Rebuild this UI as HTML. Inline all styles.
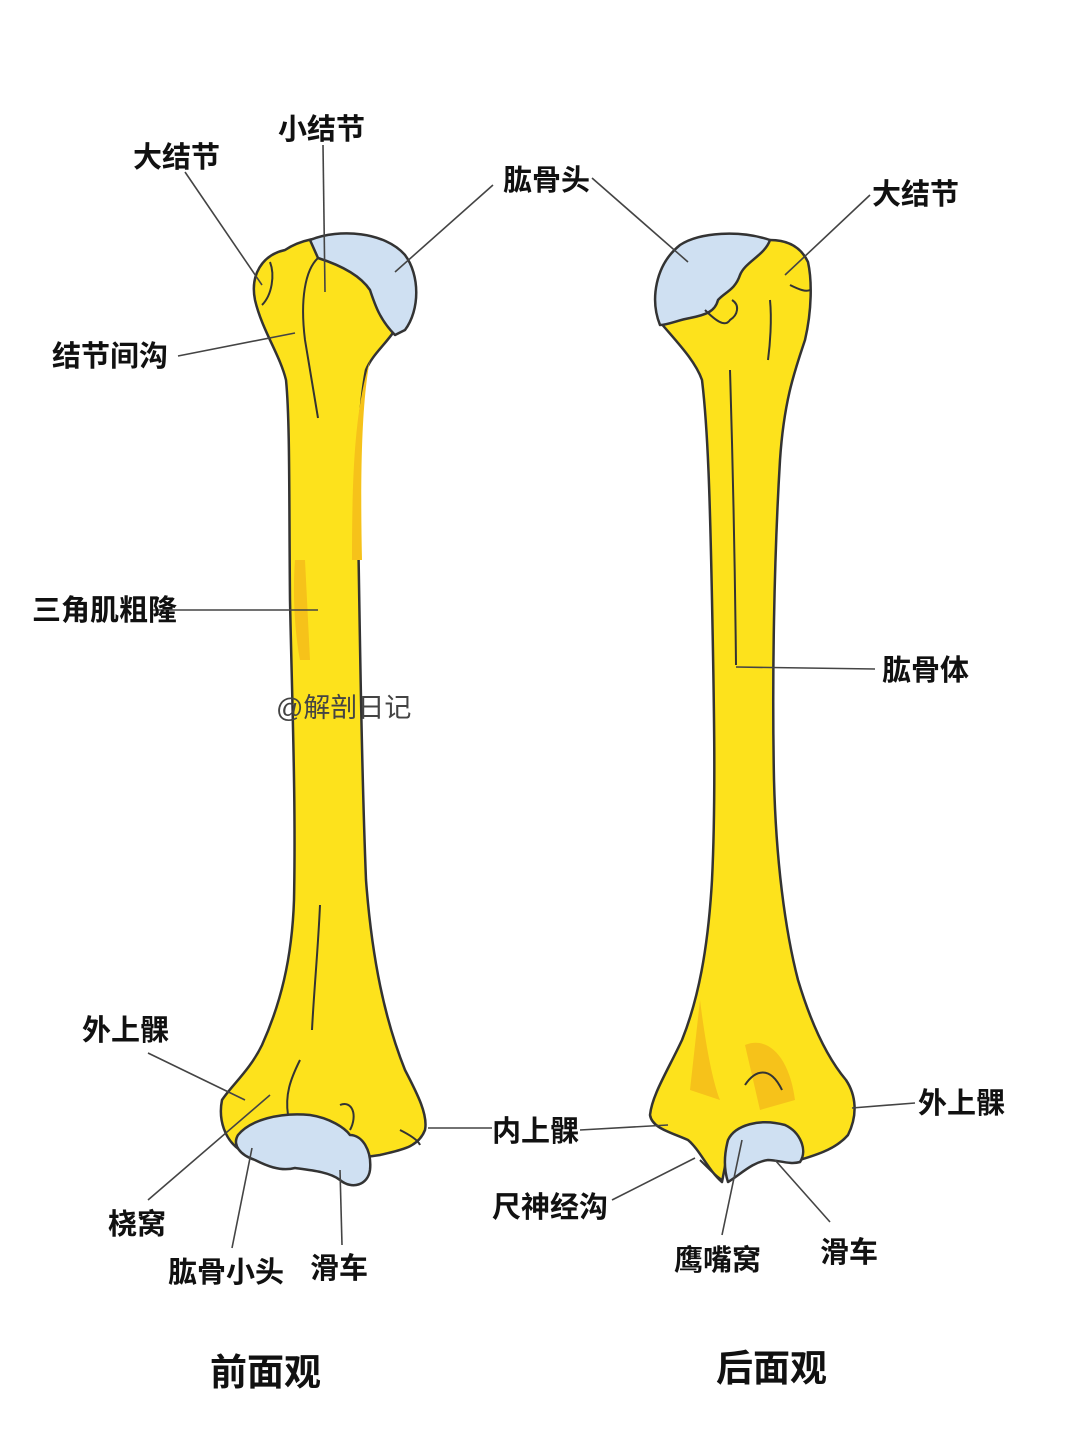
<!DOCTYPE html>
<html><head><meta charset="utf-8"><style>
html,body{margin:0;padding:0;background:#fff;}
svg{display:block;}
text{font-family:"Liberation Sans","Noto Sans CJK SC",sans-serif;font-weight:bold;fill:#111;font-size:29px;}
</style></head><body>
<svg width="1080" height="1439" viewBox="0 0 1080 1439" xmlns="http://www.w3.org/2000/svg">
<rect width="1080" height="1439" fill="#fff"/>
<g stroke="#333" stroke-width="2.5" stroke-linejoin="round">
<path fill="#fde21c" d="M255,300 C250,275 262,255 285,250 C300,240 320,236 340,238 L395,330 C385,345 372,355 366,370 C360,400 357,450 358,520 C360,650 362,780 366,880 C372,960 385,1020 405,1070 C418,1095 428,1115 425,1130 C418,1148 400,1150 380,1155 L345,1160 L240,1150 C225,1140 218,1120 222,1100 C232,1085 250,1070 262,1045 C280,1005 292,960 294,900 C296,800 292,700 290,600 C289,500 290,420 286,380 C280,355 262,330 255,300 Z"/>
<path fill="#f6c21a" stroke="none" d="M370,360 C362,400 360,470 362,560 L352,560 C352,470 355,410 370,360Z M295,560 C292,600 296,640 300,660 L310,660 L305,560Z"/>
<path fill="#cfe0f2" d="M310,240 C340,228 385,232 405,255 C420,275 420,310 405,330 L395,335 C380,320 375,305 370,290 C360,275 340,265 318,258 Z"/>
<path fill="#cfe0f2" d="M238,1135 C250,1120 280,1112 310,1115 C330,1118 345,1128 350,1135 C362,1135 372,1150 370,1170 C368,1185 352,1190 340,1180 C330,1172 310,1170 295,1168 C280,1172 265,1165 255,1160 C240,1155 232,1145 238,1135 Z"/>
<g fill="none" stroke-width="2">
<path d="M318,258 C305,270 300,300 305,340 C310,370 315,400 318,418"/>
<path d="M270,262 C275,275 272,295 262,305"/>
<path d="M320,905 C318,950 314,990 312,1030"/>
<path d="M300,1060 C290,1080 285,1095 288,1115"/>
<path d="M340,1105 C352,1100 358,1115 350,1130"/>
<path d="M400,1130 C410,1135 418,1140 420,1145"/>
</g>
<path fill="#fde21c" d="M660,322 C675,340 695,360 702,380 C708,430 710,500 712,600 C714,700 716,800 712,880 C708,950 698,1000 682,1040 C668,1070 652,1095 650,1115 C652,1128 670,1132 688,1140 C700,1150 708,1170 722,1182 L730,1140 L800,1160 C815,1155 835,1150 848,1135 C858,1115 856,1095 846,1080 C825,1055 810,1020 798,980 C785,930 776,860 774,780 C772,680 774,560 780,460 C784,400 795,370 805,340 C812,310 812,280 808,262 C800,245 785,240 770,240 L700,240 Z"/>
<path fill="#f6c21a" stroke="none" d="M745,1045 C770,1035 790,1060 795,1100 L760,1110 Z M700,1000 C705,1040 712,1080 720,1100 L690,1090Z"/>
<path fill="#cfe0f2" d="M660,325 C650,300 655,265 680,245 C700,232 740,230 770,240 C765,255 745,262 740,275 C735,290 725,292 718,300 C715,312 705,315 690,318 C678,320 668,325 660,325 Z"/>
<path fill="#cfe0f2" d="M728,1140 C735,1125 760,1118 785,1125 C800,1132 808,1150 800,1162 C790,1165 778,1160 768,1160 C752,1162 740,1175 728,1182 C724,1170 724,1155 728,1140 Z"/>
<g fill="none" stroke-width="2">
<path d="M705,310 C715,320 725,328 730,320 C738,315 740,305 732,300"/>
<path d="M730,370 C733,470 735,570 736,665"/>
<path d="M770,300 C772,320 770,345 768,360"/>
<path d="M790,285 C800,290 806,292 810,290"/>
<path d="M745,1085 C755,1070 770,1065 782,1090"/>
<path d="M700,1160 C710,1170 715,1175 722,1180"/>
</g>
</g>
<g stroke="#444" stroke-width="1.6" fill="none">
<line x1="185" y1="172" x2="262" y2="285"/>
<line x1="323" y1="145" x2="325" y2="292"/>
<line x1="493" y1="185" x2="395" y2="272"/>
<line x1="178" y1="356" x2="295" y2="333"/>
<line x1="150" y1="610" x2="318" y2="610"/>
<line x1="148" y1="1053" x2="245" y2="1100"/>
<line x1="428" y1="1128" x2="492" y2="1128"/>
<line x1="148" y1="1200" x2="270" y2="1095"/>
<line x1="232" y1="1248" x2="252" y2="1148"/>
<line x1="342" y1="1245" x2="340" y2="1170"/>
<line x1="592" y1="178" x2="688" y2="262"/>
<line x1="870" y1="195" x2="785" y2="275"/>
<line x1="736" y1="667" x2="875" y2="669"/>
<line x1="852" y1="1108" x2="915" y2="1103"/>
<line x1="580" y1="1130" x2="668" y2="1125"/>
<line x1="612" y1="1200" x2="695" y2="1158"/>
<line x1="722" y1="1235" x2="742" y2="1140"/>
<line x1="830" y1="1222" x2="775" y2="1160"/>
</g>
<text x="133" y="167">大结节</text>
<text x="278" y="139">小结节</text>
<text x="503" y="190">肱骨头</text>
<text x="52" y="366">结节间沟</text>
<text x="32" y="620">三角肌粗隆</text>
<text x="82" y="1040">外上髁</text>
<text x="108" y="1234">桡窝</text>
<text x="168" y="1282">肱骨小头</text>
<text x="310" y="1278">滑车</text>
<text x="872" y="204">大结节</text>
<text x="882" y="680">肱骨体</text>
<text x="918" y="1113">外上髁</text>
<text x="492" y="1141">内上髁</text>
<text x="492" y="1217">尺神经沟</text>
<text x="674" y="1270">鹰嘴窝</text>
<text x="820" y="1262">滑车</text>
<text x="210" y="1385" style="font-size:37px">前面观</text>
<text x="716" y="1381" style="font-size:37px">后面观</text>
<text x="276" y="717" style="font-size:27px;font-weight:normal;fill:#444">@解剖日记</text>
</svg>
</body></html>
